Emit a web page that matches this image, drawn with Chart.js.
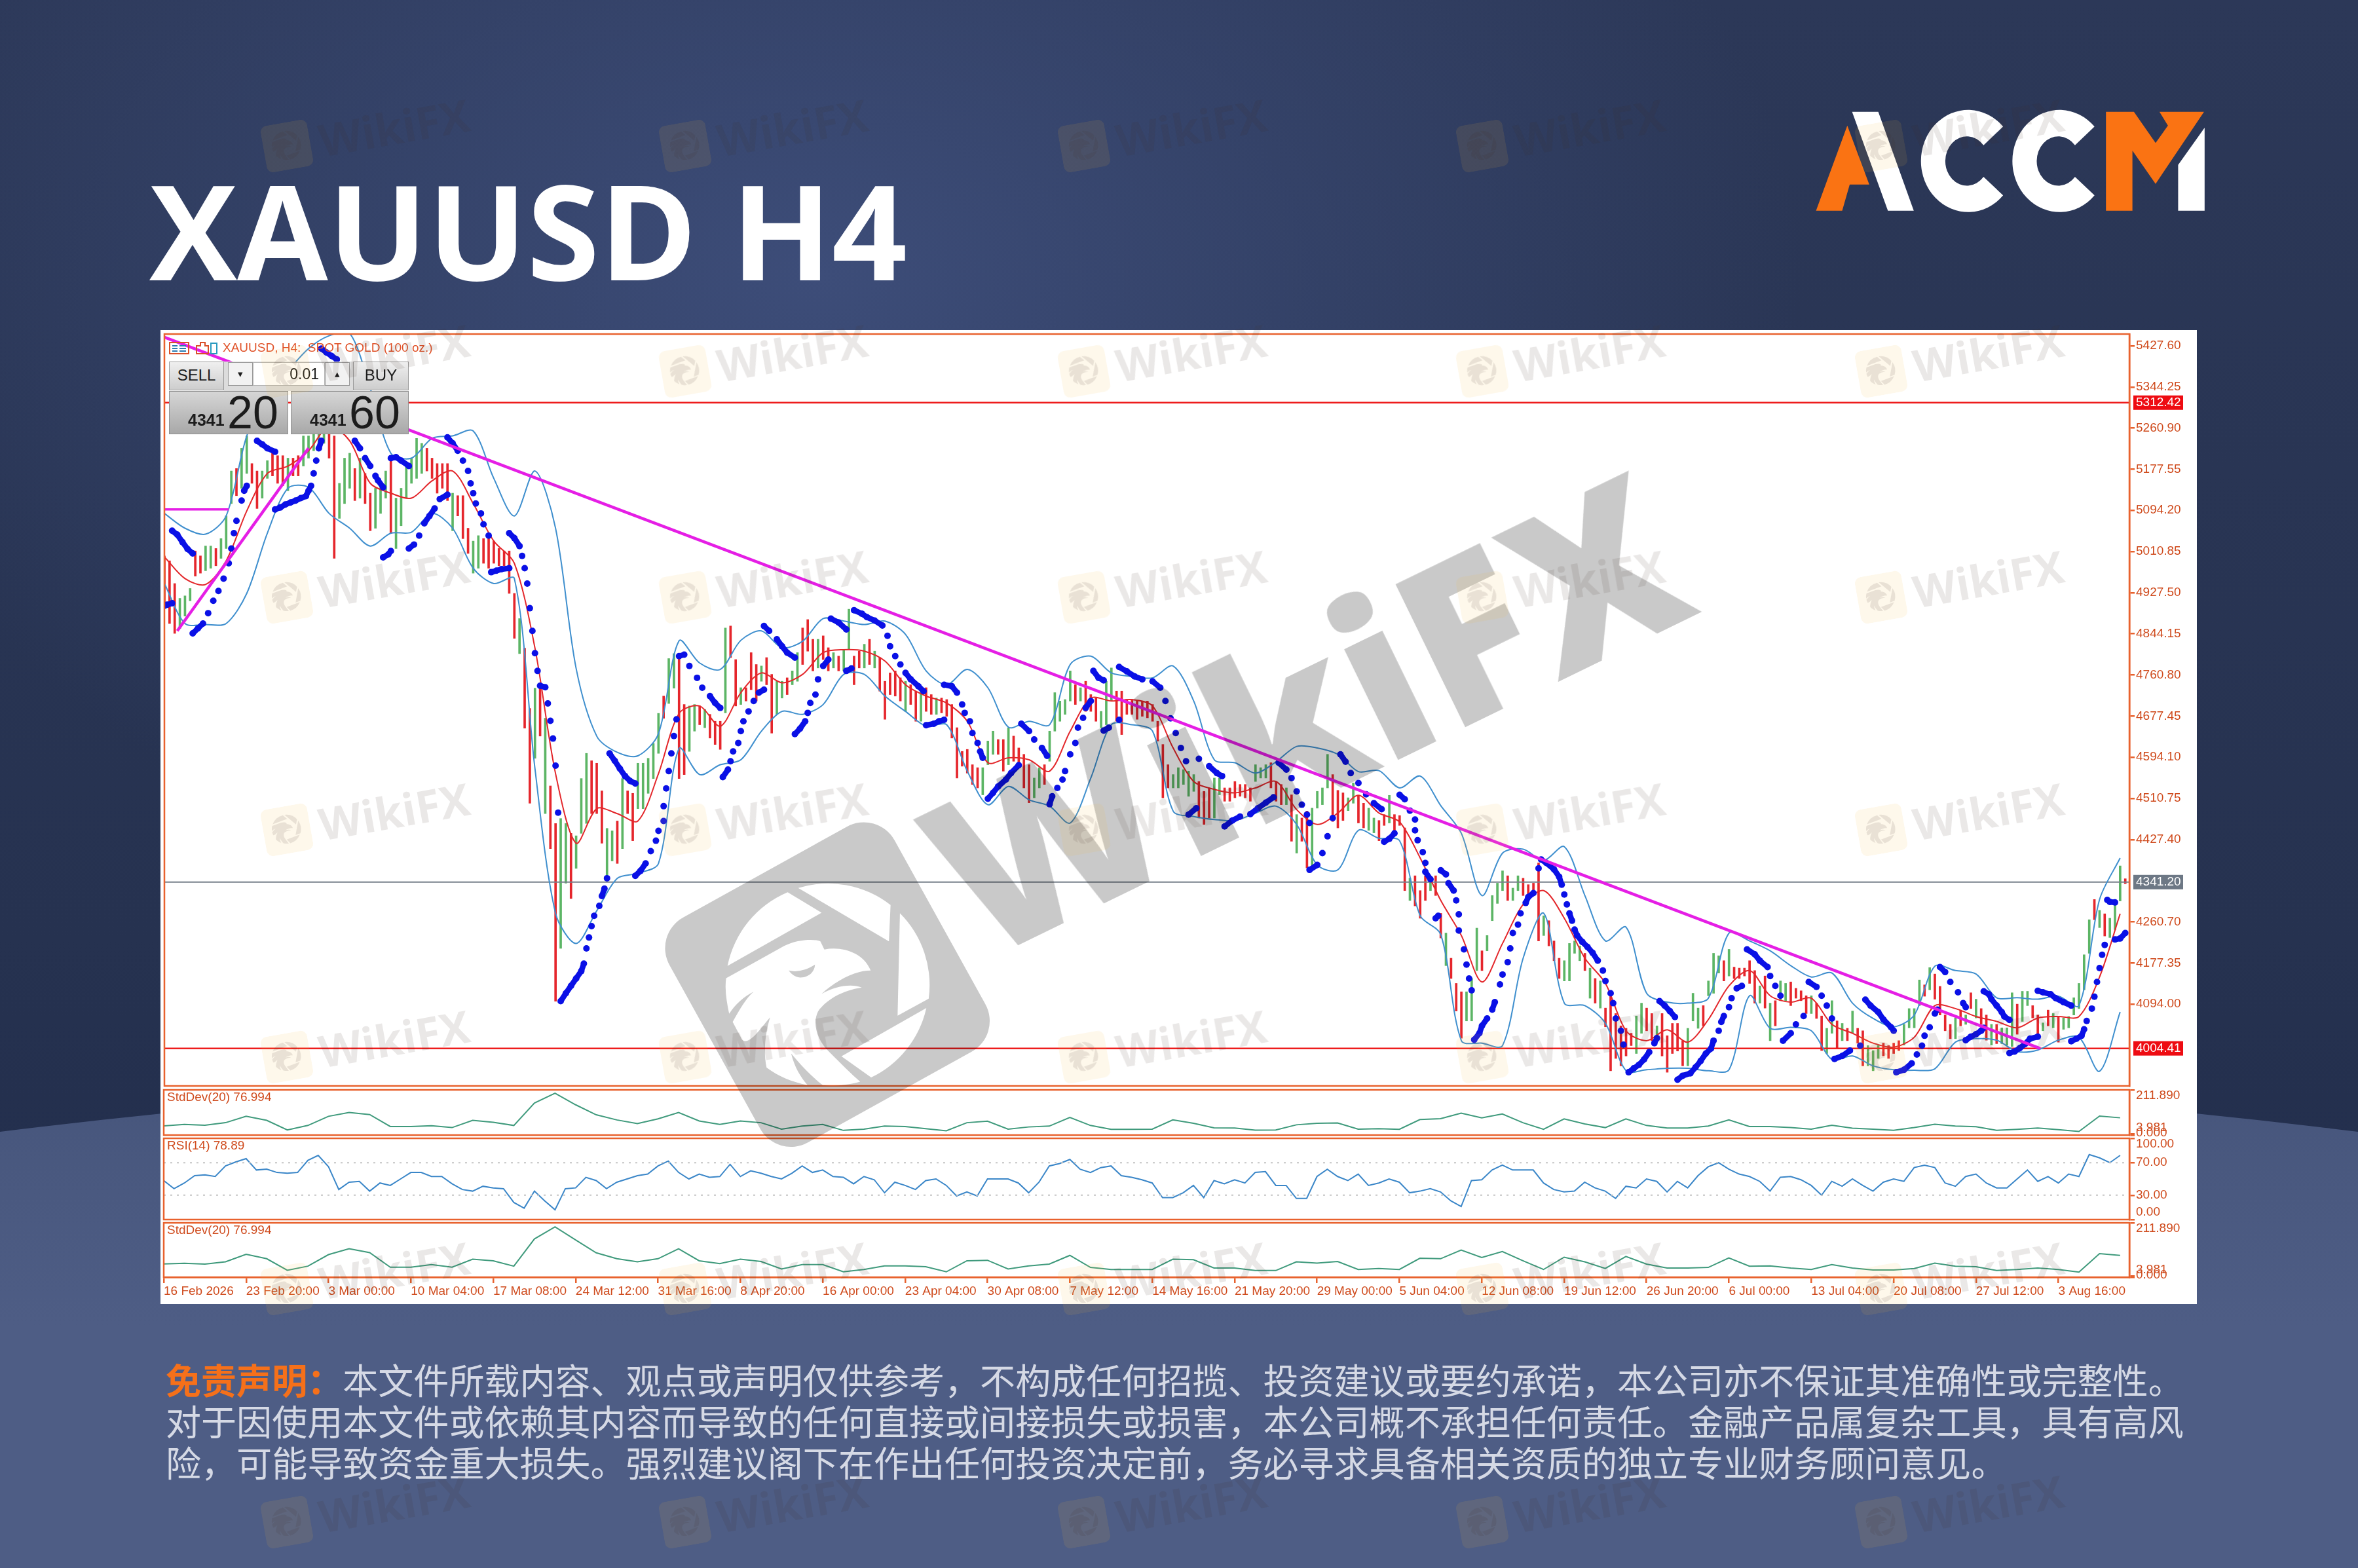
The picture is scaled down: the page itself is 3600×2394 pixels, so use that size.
<!DOCTYPE html>
<html lang="zh">
<head>
<meta charset="utf-8">
<title>XAUUSD H4</title>
<script src="https://cdn.jsdelivr.net/npm/chart.js@4"></script>
<style>
  html, body { margin: 0; padding: 0; }
  body {
    position: relative; width: 3600px; height: 2394px; overflow: hidden;
    background:
      radial-gradient(ellipse 1500px 1000px at 1250px 420px, #3d4d79 0%, rgba(61,77,121,0) 100%),
      linear-gradient(180deg, #2c3858 0%, #263250 60%, #1e2a49 100%);
    font-family: "Liberation Sans", sans-serif;
  }
  .abs { position: absolute; }
  #arc { left: -2255px; top: 1624px; width: 8110px; height: 2000px; border-radius: 50%;
         background: linear-gradient(180deg, #46557b 0%, #4e5d85 20%); }
  #title { left: 228px; top: 215px; font: 700 201px/270px "Open Sans", sans-serif; color: #fff; white-space: nowrap; }
  #logo { left: 2700px; top: 130px; }
  #sheet { left: 245px; top: 504px; width: 3109px; height: 1487px; background: #fff; }
  canvas { position: absolute; left: 246px; }
  #header { left: 340px; top: 520px; font-size: 19px; color: #e0532a; white-space: pre; }
  .tp { position: absolute; box-sizing: border-box; color: #1c1c1c; white-space: nowrap; }
  .btn { background: linear-gradient(180deg, #efefef, #cdcdcd); border: 1px solid #9a9a9a; text-align: center; font-size: 24px; line-height: 40px; }
  .big { background: linear-gradient(180deg, #d6d6d6, #a8a8a8); border: 1px solid #8f8f8f; }
  .big b { position: absolute; left: 28px; bottom: 6px; font-size: 25px; }
  .big span { position: absolute; left: 88px; bottom: -3px; font-size: 70px; line-height: 70px; }
  #notes div { position: absolute; left: 253px; font: 400 54.05px/64px "Noto Sans CJK SC", sans-serif; color: #d5d9e5; white-space: nowrap; }
  #notes b { color: #f5701a; font-weight: 700; }
  #marks { left: 0; top: 0; width: 3600px; height: 2394px; pointer-events: none; }
  .wm { position: absolute; display: flex; align-items: center; transform: rotate(-10deg); transform-origin: 36px 36px; }
  .wm span { font: 700 68px/72px "Open Sans", sans-serif; color: rgba(60,50,40,.11); margin-left: 14px; }
  #bigText { left: 1340px; top: 835px; width: 1300px; text-align: center; font: 800 340px/500px "Open Sans", sans-serif; color: #c9c9c9; mix-blend-mode: multiply; transform: rotate(-26deg); }
  #bigLogo { left: 990px; top: 1230px; mix-blend-mode: multiply; overflow: visible; }
</style>
</head>
<body>
<div id="arc" class="abs"></div>
<div id="title" class="abs">XAUUSD H4</div>

<svg id="logo" class="abs" width="720" height="230" viewBox="0 0 1568 690" preserveAspectRatio="none">
  <polygon fill="#fa7313" points="158,575 262,185 335,455 270,455 245,575"/>
  <polygon fill="#fff" points="278,122 365,122 483,575 397,575"/>
  <path fill="#fff" d="M780 190 A157 234 0 1 0 780 505 L715 420 A72 113 0 1 1 715 275 Z"/>
  <path fill="#fff" d="M1084 190 A157 234 0 1 0 1084 505 L1019 420 A72 113 0 1 1 1019 275 Z"/>
  <polygon fill="#fa7313" points="1122,122 1215,122 1287,265 1328,185 1300,122 1448,122 1287,452 1210,300 1210,575 1122,575"/>
  <polygon fill="#fff" points="1450,195 1450,575 1362,575 1362,365"/>
</svg>

<div id="sheet" class="abs"></div>
<canvas id="mainPane" width="3108" height="1158" style="top:505px"></canvas>
<canvas id="stdPaneA" width="3108" height="77" style="top:1660px"></canvas>
<canvas id="rsiPane" width="3108" height="132" style="top:1734px"></canvas>
<canvas id="stdPaneB" width="3108" height="128" style="top:1863px"></canvas>

<svg class="abs" style="left:258px;top:520px" width="76" height="24" viewBox="0 0 76 24">
  <rect x="1" y="3" width="29" height="17" fill="none" stroke="#d9502a" stroke-width="2"/>
  <path d="M5 8h8M5 12h8M5 16h8M16 8h10M16 12h10M16 16h10" stroke="#2a7ab0" stroke-width="2"/>
  <path d="M42 20V8h6V3h7v5h5v12z" fill="none" stroke="#d9502a" stroke-width="2"/>
  <path d="M64 20V4h9v16z" fill="none" stroke="#2a9ac0" stroke-width="2"/>
</svg>
<div id="header" class="abs">XAUUSD, H4:  SPOT GOLD (100 oz.)</div>

<div class="tp btn" style="left:258px;top:552px;width:84px;height:44px">SELL</div>
<div class="tp" style="left:342px;top:552px;width:197px;height:45px;background:#dcdcdc"></div>
<div class="tp btn" style="left:348px;top:553px;width:38px;height:36px;line-height:34px;font-size:15px;background:#f2f2f2">&#9662;</div>
<div class="tp" style="left:386px;top:553px;width:110px;height:36px;background:#fff;border:1px solid #b5b5b5;text-align:right;padding-right:8px;font-size:23px;line-height:34px">0.01</div>
<div class="tp btn" style="left:496px;top:553px;width:38px;height:36px;line-height:34px;font-size:15px;background:#f2f2f2">&#9652;</div>
<div class="tp btn" style="left:539px;top:552px;width:85px;height:44px">BUY</div>
<div class="tp big" style="left:258px;top:597px;width:182px;height:66px"><b>4341</b><span>20</span></div>
<div class="tp big" style="left:444px;top:597px;width:180px;height:66px"><b>4341</b><span>60</span></div>

<div id="notes">
  <div style="top:2074px"><b>免责声明&#xFF1A;</b>本文件所载内容、观点或声明仅供参考&#xFF0C;不构成任何招揽、投资建议或要约承诺&#xFF0C;本公司亦不保证其准确性或完整性。</div>
  <div style="top:2137px">对于因使用本文件或依赖其内容而导致的任何直接或间接损失或损害&#xFF0C;本公司概不承担任何责任。金融产品属复杂工具&#xFF0C;具有高风</div>
  <div style="top:2200px">险&#xFF0C;可能导致资金重大损失。强烈建议阁下在作出任何投资决定前&#xFF0C;务必寻求具备相关资质的独立专业财务顾问意见。</div>
</div>

<svg width="0" height="0" style="position:absolute">
  <symbol id="eagle" viewBox="0 0 1568 1568" overflow="visible">
    <path d="M595 370 L740 458 L338 685 A435 435 0 0 1 595 370 Z"/>
    <path d="M640 352 A435 435 0 0 1 1035 425 L1028 580 Z"/>
    <path d="M1075 460 A435 435 0 0 1 1198 825 L1065 898 Z"/>
    <path d="M1188 865 A435 435 0 0 1 952 1162 L825 1072 Z"/>
    <path d="M332 738 L580 600 C640 570 710 570 735 580 L752 615 C830 600 920 630 950 705 C880 705 800 750 740 805 C800 770 870 760 912 778 C830 790 760 830 725 880 C700 930 720 1000 770 1050 C820 1100 870 1150 905 1180 C850 1195 790 1200 745 1195 C700 1160 660 1120 610 1060 C625 1120 650 1160 680 1195 C610 1180 560 1160 505 1120 C490 1050 500 970 520 905 C480 950 430 1030 400 1000 L360 925 C390 870 420 820 450 795 C410 815 370 850 345 890 C335 840 325 790 332 738 Z"/>
  </symbol>
</svg>

<div id="marks" class="abs">
  <div id="bigText" class="abs">WikiFX</div>
  <svg id="bigLogo" class="abs" width="560" height="560" viewBox="0 0 1568 1568">
    <rect x="215" y="215" width="1100" height="1100" rx="150" fill="#c9c9c9" transform="rotate(-29 765 765)"/>
    <use href="#eagle" width="1568" height="1568" fill="#fff"/>
    <path d="M600 705 C640 715 680 700 712 680 C710 715 680 735 650 735 C630 735 610 720 600 705 Z" fill="#c9c9c9"/>
  </svg>
</div>

<script>
// -------- axis labels --------
const priceTicks = [5427.60, 5344.25, 5260.90, 5177.55, 5094.20, 5010.85, 4927.50, 4844.15, 4760.80, 4677.45, 4594.10, 4510.75, 4427.40, 4260.70, 4177.35, 4094.00];
const tagValues = [5312.42, 4341.20, 4004.41];
const tagColors = ["#ee0c12", "#6d7885", "#ee0c12"];
const timeLabels = ["16 Feb 2026", "23 Feb 20:00", "3 Mar 00:00", "10 Mar 04:00", "17 Mar 08:00", "24 Mar 12:00", "31 Mar 16:00", "8 Apr 20:00", "16 Apr 00:00", "23 Apr 04:00", "30 Apr 08:00", "7 May 12:00", "14 May 16:00", "21 May 20:00", "29 May 00:00", "5 Jun 04:00", "12 Jun 08:00", "19 Jun 12:00", "26 Jun 20:00", "6 Jul 00:00", "13 Jul 04:00", "20 Jul 08:00", "27 Jul 12:00", "3 Aug 16:00"];
const stdTicks = [211.89, 3.981, 0];
const rsiTicks = [100, 70, 30, 0];

// -------- price bars, one visible bar every 2 time units --------
const barHigh = [
5002,4992,4946,4916,4921,4936,5012,5002,5022,5022,5017,5037,5083,5174,5179,5220,5245,5189,5174,5174,
5195,5210,5205,5205,5200,5200,5205,5245,5245,5281,5311,5321,5311,5245,5149,5200,5210,5179,5200,5169,
5129,5139,5149,5174,5200,5119,5139,5189,5200,5240,5230,5220,5200,5189,5189,5189,5129,5124,5124,5058,
5032,5043,5037,5037,5032,5017,5012,5012,4926,4875,4815,4693,4734,4739,4673,4536,4460,4470,4460,4440,
4435,4551,4602,4587,4582,4526,4450,4445,4465,4551,4526,4521,4582,4582,4592,4622,4683,4718,4794,4804,
4799,4701,4698,4701,4698,4691,4681,4667,4667,4856,4860,4792,4735,4735,4806,4782,4779,4796,4762,4748,
4748,4755,4769,4806,4856,4873,4833,4833,4840,4816,4806,4799,4812,4894,4799,4809,4823,4833,4809,4796,
4748,4765,4769,4755,4748,4741,4728,4728,4735,4721,4714,4714,4711,4701,4654,4606,4610,4579,4573,4573,
4627,4647,4630,4630,4654,4637,4613,4600,4579,4552,4573,4579,4647,4725,4708,4711,4769,4741,4735,4748,
4721,4714,4687,4748,4775,4728,4728,4711,4711,4708,4708,4708,4701,4667,4620,4579,4559,4573,4569,4566,
4559,4545,4525,4532,4552,4552,4532,4532,4545,4539,4539,4532,4579,4573,4579,4583,4545,4539,4532,4518,
4478,4471,4485,4491,4525,4532,4600,4559,4527,4522,4512,4542,4517,4501,4491,4471,4466,4478,4517,4478,
4476,4451,4349,4354,4324,4354,4344,4354,4278,4238,4187,4136,4119,4119,4146,4248,4202,4233,4314,4339,
4364,4354,4329,4354,4349,4336,4339,4380,4273,4263,4222,4187,4182,4217,4222,4212,4197,4167,4146,4141,
4086,4111,4075,4050,4045,4035,4070,4096,4086,4075,4050,4075,4030,4055,4055,4020,4045,4116,4086,4091,
4141,4197,4192,4182,4205,4169,4167,4167,4182,4162,4131,4151,4096,4101,4141,4136,4139,4126,4121,4111,
4111,4096,4070,4045,4101,4060,4055,4045,4080,4045,4040,4010,4000,4010,4015,4010,4015,4020,4053,4085,
4085,4143,4133,4168,4155,4130,4072,4053,4066,4082,4072,4117,4104,4085,4072,4053,4053,4046,4046,4117,
4094,4120,4120,4091,4072,4056,4082,4075,4069,4066,4069,4107,4136,4194,4265,4306,4284,4277,4268,4297,
4374,4348];
const barLow = [
4901,4865,4845,4855,4880,4911,4961,4967,4972,4977,4982,4997,5017,5108,5124,5139,5169,5149,5098,5119,
5159,5164,5149,5144,5134,5164,5164,5184,5200,5215,5220,5230,5200,4997,5078,5108,5139,5114,5119,5108,
5053,5058,5088,5119,5048,5017,5063,5119,5149,5159,5169,5174,5159,5129,5139,5114,5053,5083,5037,5007,
4967,4977,4987,4977,4987,4982,4982,4926,4835,4804,4653,4501,4592,4637,4480,4409,4100,4207,4339,4308,
4369,4440,4460,4480,4480,4420,4354,4384,4379,4409,4480,4425,4490,4490,4521,4551,4602,4673,4703,4734,
4551,4559,4606,4647,4660,4654,4633,4620,4610,4684,4796,4698,4701,4708,4731,4708,4748,4741,4643,4681,
4714,4721,4741,4748,4782,4809,4769,4775,4792,4769,4775,4769,4769,4812,4741,4775,4775,4782,4775,4728,
4671,4721,4718,4708,4687,4701,4667,4667,4687,4681,4681,4684,4677,4633,4552,4576,4562,4539,4532,4518,
4579,4600,4600,4566,4579,4586,4572,4532,4502,4512,4532,4539,4586,4647,4667,4681,4708,4701,4708,4687,
4687,4667,4654,4660,4708,4667,4640,4681,4681,4671,4677,4674,4667,4627,4512,4532,4532,4532,4539,4515,
4525,4471,4458,4471,4471,4518,4505,4505,4512,4515,4512,4505,4545,4552,4552,4532,4505,4498,4498,4424,
4400,4424,4370,4366,4491,4498,4532,4464,4451,4466,4486,4501,4461,4451,4446,4441,4425,4456,4461,4446,
4456,4324,4304,4293,4268,4304,4324,4314,4228,4172,4146,4080,4025,4060,4060,4162,4162,4202,4263,4298,
4324,4304,4304,4324,4314,4314,4314,4222,4233,4212,4182,4146,4141,4141,4197,4182,4162,4106,4096,4086,
4048,3959,3984,3969,3989,4010,3994,4035,4040,4020,4025,3989,3956,3994,3999,3969,3969,4060,4045,4050,
4111,4116,4157,4141,4151,4146,4146,4151,4136,4096,4096,4086,4020,4050,4101,4101,4091,4106,4101,4075,
4075,4065,4000,3994,4035,4004,4020,4020,4035,4015,3969,3969,3959,3984,3989,3984,3994,4000,4011,4046,
4046,4091,4110,4123,4104,4072,4040,4024,4024,4050,4053,4085,4066,4053,4021,4011,4014,4014,4011,4008,
4033,4059,4091,4066,4033,4040,4050,4046,4017,4043,4046,4072,4085,4123,4197,4265,4249,4232,4229,4245,
4303,4338];
const barDir = [
"rrrgggrrgg","rgggrggrrg","grrrgrrggg","ggrrgggrgr","rgggrggggg","grrrrrgrrr","ggrrrrrrrg","rrgrgrrggr",
"gggrrrggrg","rrgggggrgg","rrggrgrrrg","rrgrrrgrrg","grggrrrgrr","grggrrgrgr","rrrrgrrgrr","grrrrrrrrg",
"ggrrgrrrrg","grgggggrgr","rrgggrrrrr","rrrrrrgggg","grrrggrrrr","rrgggrrrgr","grrggggrrr","ggrrggrrgr",
"rrgrrrgrrg","rrrgggrggg","grggrrrrgr","rrggggrgrg","rrrrrrggrr","grrrrrgggr","gggrgrrrrr",
"grgrggrrrr","grrggrgrgr","rgggrrrrgg","ggrgrrrrgr","grgrrgrggg","rggrrgrgrg","gggggrgrgggr"].join("");

// -------- indicators on the main pane, sampled every 8 time units --------
const bbUpper = [
5088,5058,5046,5083,5245,5331,5377,5422,5448,5453,5341,5210,5200,5240,5245,5255,5159,5083,5174,5058,4774,4637,4604,4597,4642,4830,
4785,4772,4831,4850,4816,4829,4875,4870,4863,4870,4843,4769,4741,4772,4735,4655,4667,4660,4782,4799,4765,4758,4755,4779,4708,4589,4583,4562,4585,4616,4613,4600,
4565,4567,4532,4556,4496,4440,4314,4400,4408,4385,4413,4314,4222,4250,4116,4098,4096,4106,4238,4222,4202,4172,4149,4157,4096,4065,4048,
4072,4171,4162,4155,4107,4107,4104,4110,4091,4306,4390];
const bbLower = [
4946,4865,4863,4865,4926,5048,5139,5141,5088,5058,5022,5048,5050,5088,5058,4977,4946,4956,4571,4278,4217,4283,4349,4359,4379,4612,
4559,4579,4589,4647,4687,4681,4701,4762,4762,4718,4687,4657,4660,4566,4498,4535,4508,4495,4461,4552,4660,4660,4647,4485,4474,4468,4466,4481,4495,4458,4376,4366,
4446,4430,4425,4273,4235,4020,4015,4010,4187,4278,4096,4091,4055,3959,3961,3964,3964,3959,3961,4111,4045,4047,4040,3982,3989,3969,3961,
3960,3963,4017,4024,4021,3998,4001,4021,4027,3958,4078];
const bbMiddle = [
5000,4956,4944,4992,5093,5169,5184,5215,5265,5235,5149,5129,5119,5154,5174,5108,5032,4987,4815,4561,4420,4490,4480,4465,4561,4683,
4698,4657,4725,4765,4745,4762,4806,4812,4809,4789,4741,4718,4704,4667,4583,4593,4589,4566,4647,4714,4708,4711,4698,4613,4545,4529,4522,4532,4545,4488,4458,4481,
4517,4481,4463,4390,4304,4233,4139,4217,4296,4324,4268,4187,4136,4040,4020,4042,4017,4063,4131,4162,4111,4098,4106,4053,4035,4015,4007,
4027,4091,4085,4069,4059,4046,4066,4069,4069,4149,4277];

// parabolic SAR dots as [time unit, price]
const sarPoints = [
[0,4901],[1,4903],[3,4906],[3,5053],[5,5045],[7,5030],[9,5016],[11,5007],
[11,4845],[13,4855],[15,4865],[17,4886],[19,4911],[21,4931],[23,4956],[25,4987],[26,5017],[27,5048],[28,5073],[30,5114],[31,5134],[32,5144],
[36,5235],[38,5228],[40,5220],[43,5213],
[43,5096],[45,5100],[47,5106],[49,5110],[51,5114],[53,5119],[55,5123],[56,5134],[57,5144],[58,5169],[59,5195],[60,5220],[61,5235],
[61,5422],[63,5414],[65,5407],[67,5400],
[74,5235],[76,5220],[78,5200],[80,5184],[82,5164],[83,5155],[85,5141],
[88,5200],[90,5202],[92,5195],[95,5184],
[85,4999],[87,5005],[88,5012],
[95,5017],[97,5025],[99,5043],[101,5068],[103,5083],[105,5098],[107,5117],[110,5126],
[110,5242],[112,5230],[114,5215],[116,5195],[118,5174],[119,5149],[120,5129],[121,5108],[123,5088],[124,5066],[126,5043],
[127,4969],[129,4972],[131,4975],[134,4977],
[134,5048],[136,5038],[138,5022],[139,5002],[140,4977],[141,4946],[142,4896],[143,4850],[144,4805],[145,4769],[146,4739],[148,4736],[149,4703],[150,4668],[151,4632],[152,4577],[153,4482],
[154,4100],[156,4116],[158,4131],[160,4146],[162,4161],[163,4176],[164,4207],[165,4229],[166,4252],[167,4273],[169,4293],[170,4313],[171,4328],[172,4349],
[173,4602],[175,4587],[177,4571],[179,4556],[181,4546],[183,4541],
[183,4354],[185,4364],[187,4379],[189,4404],[191,4425],[192,4445],[194,4465],[194,4495],[195,4531],[196,4566],[197,4602],[198,4637],[199,4671],
[200,4799],[202,4802],[204,4779],[207,4755],[209,4735],[212,4718],[214,4704],[216,4694],
[217,4554],[219,4569],[220,4586],[221,4606],[223,4623],[224,4647],[225,4667],[227,4687],[229,4708],[231,4725],[233,4731],
[233,4860],[235,4850],[238,4833],[240,4819],[242,4806],[245,4796],
[245,4641],[247,4652],[249,4667],[250,4684],[251,4704],[253,4721],[254,4752],[256,4779],[258,4792],
[259,4875],[262,4867],[265,4853],
[265,4769],[267,4774],
[268,4892],[271,4885],[273,4878],[276,4871],[279,4861],[281,4840],[282,4819],[284,4799],[286,4782],[288,4765],[290,4752],[293,4738],[295,4728],
[296,4659],[299,4662],[301,4667],[303,4670],
[303,4741],[306,4738],[308,4725],[310,4701],[311,4684],[313,4667],[314,4643],[316,4623],[317,4606],[318,4593],
[320,4510],[322,4522],[324,4535],[327,4549],[329,4562],[332,4578],
[333,4662],[336,4647],[338,4630],[341,4613],[343,4597],
[344,4499],[345,4515],[347,4532],[349,4549],[350,4566],[352,4600],[354,4623],[355,4654],[357,4674],[358,4694],[360,4708],
[361,4769],[363,4755],[365,4750],
[365,4648],[367,4654],[371,4670],
[371,4777],[374,4768],[377,4758],[380,4752],[384,4748],[387,4735],[389,4708],[391,4673],[393,4643],[395,4613],[397,4586],
[398,4478],[401,4491],
[402,4591],[406,4576],[409,4562],[411,4556],
[412,4454],[415,4466],[418,4474],[422,4479],[425,4491],[428,4502],[431,4513],
[433,4583],[436,4569],[438,4552],[440,4525],[442,4498],[444,4478],[445,4461],
[445,4366],[448,4376],[450,4400],[452,4434],[454,4471],
[457,4600],[459,4585],[461,4562],[464,4542],[467,4519],[470,4501],[473,4489],
[474,4423],[476,4429],[478,4440],
[480,4518],[482,4509],[484,4486],[486,4468],[486,4446],[487,4426],[489,4402],[490,4380],[490,4362],[492,4347],
[494,4268],[495,4273],
[496,4365],[498,4357],[499,4339],[501,4324],[502,4304],[503,4276],[503,4243],[505,4205],[506,4174],[507,4146],[508,4122],
[509,4022],[511,4035],[512,4050],[514,4065],[516,4083],[517,4098],[519,4134],[520,4154],[522,4179],[523,4207],[524,4238],[526,4255],[527,4278],[529,4299],[530,4311],[532,4319],
[534,4369],[535,4387],[537,4380],[540,4367],[542,4352],[543,4336],[544,4316],[545,4296],[546,4278],[547,4263],[548,4245],[549,4233],[551,4220],[553,4210],[555,4198],[557,4182],[559,4162],[560,4141],[562,4116],[563,4096],[564,4065],[566,4040],[567,4012],
[569,3956],[571,3964],[573,3971],[575,3982],[577,3997],[579,4015],[580,4025],
[581,4100],[583,4091],[585,4080],[587,4068],
[588,3941],[590,3949],[593,3954],[595,3966],[597,3979],[599,3994],[601,4004],[602,4020],[604,4040],[605,4058],[606,4070],[608,4088],[609,4106],[611,4126],[613,4131],
[615,4205],[618,4195],[620,4182],[623,4169],[624,4151],[626,4131],[628,4111],
[629,4020],[632,4035],[634,4053],[637,4070],
[639,4139],[642,4129],[644,4111],[646,4091],[648,4065],
[649,3983],[652,3989],[655,4000],[659,4010],
[661,4103],[663,4091],[666,4078],[668,4063],[671,4047],[672,4040],
[673,3956],[676,3961],[679,3974],[681,3992],[683,4010],[684,4030],[686,4047],[688,4075],[689,4083],
[690,4169],[692,4159],[694,4139],[697,4118],[699,4096],[700,4088],
[700,4021],[702,4028],[704,4033],[706,4040],[707,4046],
[707,4120],[709,4114],[710,4104],[712,4091],[714,4078],[715,4069],[717,4062],
[717,3995],[719,3998],[721,4005],[723,4013],[725,4024],[728,4028],
[728,4121],[730,4118],[733,4114],[735,4106],[738,4098],[741,4091],
[741,4019],[743,4024],[745,4030],[746,4043],[747,4060],[749,4085],[750,4109],[751,4139],[752,4167],[753,4194],[754,4214],
[755,4305],[756,4301],[758,4300],
[758,4225],[760,4227],[762,4238]];

// drawn objects: trendlines and horizontal levels
const trendMain = [[0,5445],[729,4004]];
const trendLeft = [[5,4850],[56,5220]];
const shelfLeft = [[0,5096],[25,5096]];

// -------- sub windows --------
const stdDevUpper = [
43,50,46,58,88,69,24,45,88,106,96,40,40,44,35,69,60,45,150,196,142,95,71,54,76,106,66,50,66,58,28,42,50,22,28,
42,40,30,20,58,65,28,38,42,83,45,27,27,28,71,55,34,33,23,24,48,55,57,28,30,27,73,77,103,81,99,58,27,76,
52,35,76,45,33,33,42,71,40,40,35,28,46,32,28,22,35,51,42,39,22,27,33,25,17,89,81];
const stdDevLower = [
52,54,51,60,89,72,27,43,88,111,96,39,39,49,39,70,64,43,149,196,145,95,72,60,72,111,64,53,70,61,32,49,49,21,30,
44,44,41,21,64,66,32,44,51,85,38,30,30,30,70,68,36,36,26,26,60,55,61,30,34,30,74,72,106,77,100,64,30,78,
60,34,81,51,36,36,38,75,43,44,36,30,49,36,28,28,34,55,43,41,26,30,36,30,20,92,85];
const rsiValues = [
48,38,45,54,55,53,66,71,75,61,62,58,57,58,73,79,65,37,46,47,35,45,42,50,58,58,53,53,44,37,35,41,39,38,21,14,35,23,12,38,
39,52,48,38,46,50,54,56,66,72,58,50,56,52,53,68,53,60,57,53,50,57,66,58,61,53,52,44,53,
49,33,46,42,37,48,50,42,29,34,29,50,50,50,45,33,46,66,69,74,62,58,64,66,54,52,49,45,27,27,33,42,27,48,44,49,45,58,59,42,
42,26,26,53,62,53,48,56,42,45,50,46,33,35,38,34,23,16,48,49,61,67,61,61,61,45,37,34,
35,46,39,35,26,41,39,50,47,34,47,39,54,65,70,62,56,53,47,35,52,53,49,42,30,47,41,50,42,35,46,50,47,64,67,64,45,41,53,56,45,39,39,50,61,47,53,45,56,53,80,76,70,79];

const unitsPerBar = 2, unitsPerBand = 8, unitsPerRsi = 4, unitsPerTimeTick = 32;
const xMax = 763.6;
const orange = "#e8622e", labelColor = "#cf4a1c";
const axisFont = { family: "Liberation Sans", size: 19 };

Chart.defaults.animation = false;
Chart.defaults.responsive = false;
Chart.defaults.devicePixelRatio = 1;

const toXY = (values, step) => values.map((v, i) => ({ x: i * step, y: v }));
const pairs = (list) => list.map(([x, y]) => ({ x, y }));

function paneFrame(label, labels) {
  // orange frame, window caption and the right-hand labels MT4 shifts inside the pane
  return {
    id: "paneFrame",
    afterDraw(chart) {
      const { ctx, chartArea: a, scales } = chart;
      ctx.save();
      ctx.strokeStyle = orange;
      ctx.lineWidth = 2.5;
      ctx.strokeRect(a.left, a.top, a.right - a.left, a.bottom - a.top);
      ctx.font = "19px 'Liberation Sans'";
      ctx.fillStyle = labelColor;
      ctx.textBaseline = "middle";
      if (label) ctx.fillText(label, a.left + 5, a.top + 12);
      (labels || []).forEach(([value, text, shift]) => {
        ctx.fillText(text, a.right + 10, scales.y.getPixelForValue(value) + shift);
      });
      ctx.restore();
    },
  };
}

const priceTags = {
  id: "priceTags",
  afterDraw(chart) {
    const { ctx, chartArea: a, scales } = chart;
    ctx.save();
    ctx.font = "19px 'Liberation Sans'";
    ctx.textBaseline = "middle";
    tagValues.forEach((value, i) => {
      const y = scales.y.getPixelForValue(value);
      ctx.fillStyle = tagColors[i];
      ctx.fillRect(a.right + 6, y - 11, 76, 22);
      ctx.fillStyle = "#fff";
      ctx.fillText(value.toFixed(2), a.right + 10, y);
    });
    ctx.restore();
  },
};

function xAxis(show) {
  return {
    type: "linear", min: 0, max: xMax, offset: false, display: show,
    border: { color: orange, width: 2.5 },
    grid: { drawOnChartArea: false, color: orange, tickLength: 9, lineWidth: 2.5 },
    afterBuildTicks(s) { s.ticks = timeLabels.map((_, i) => ({ value: i * unitsPerTimeTick })); },
    afterFit(s) { s.height = show ? 41 : 0; s.paddingLeft = 0; s.paddingRight = 0; },
    ticks: { autoSkip: false, maxRotation: 0, minRotation: 0, align: "start", padding: 1, color: labelColor, font: axisFont,
      callback: (value, index) => timeLabels[index] },
  };
}

function yAxis(min, max, tickValues, showLabels) {
  return {
    position: "right", min, max,
    border: { color: orange, width: 2.5 },
    grid: { drawOnChartArea: false, color: orange, tickLength: 8, lineWidth: 2.5 },
    afterBuildTicks(s) { s.ticks = tickValues.map((value) => ({ value })); },
    afterFit(s) { s.width = 103; s.paddingTop = 0; s.paddingBottom = 0; },
    ticks: { display: showLabels, color: labelColor, font: axisFont, padding: 2, callback: (v) => v.toFixed(2) },
  };
}

function lineSet(data, color, width, extra) {
  return Object.assign({ type: "line", data, borderColor: color, borderWidth: width, pointRadius: 0, fill: false, tension: 0 }, extra || {});
}

// main pane
new Chart(document.getElementById("mainPane"), {
  data: {
    datasets: [
      {
        type: "bar", order: 9,
        data: barHigh.map((h, i) => ({ x: i * unitsPerBar, y: [barLow[i], h] })),
        backgroundColor: barHigh.map((_, i) => (barDir[i] === "g" ? "#5cb565" : "#e5262c")),
        barThickness: 3, borderWidth: 0, borderSkipped: false,
      },
      lineSet(toXY(bbUpper, unitsPerBand), "#3f8fce", 2, { order: 6, tension: 0.3 }),
      lineSet(toXY(bbLower, unitsPerBand), "#3f8fce", 2, { order: 6, tension: 0.3 }),
      lineSet(toXY(bbMiddle, unitsPerBand), "#e3262a", 2, { order: 5, tension: 0.3 }),
      lineSet([{ x: 0, y: tagValues[1] }, { x: xMax, y: tagValues[1] }], "#77808a", 2, { order: 7 }),
      lineSet([{ x: 0, y: tagValues[0] }, { x: xMax, y: tagValues[0] }], "#ee1c1c", 2.5, { order: 7 }),
      lineSet([{ x: 0, y: tagValues[2] }, { x: xMax, y: tagValues[2] }], "#ee1c1c", 2.5, { order: 7 }),
      {
        // neighbouring dots in a flat run merge into a thick stroke, as they do in the terminal
        type: "scatter", order: 3, data: pairs(sarPoints), showLine: true,
        pointBackgroundColor: "#0a10e6", pointBorderWidth: 0, pointRadius: 5,
        borderColor: "#0a10e6", borderWidth: 8.5, borderCapStyle: "round",
        segment: {
          borderColor: (c) => (Math.abs(c.p1.parsed.x - c.p0.parsed.x) <= 3 && Math.abs(c.p1.parsed.y - c.p0.parsed.y) <= 16 ? "#0a10e6" : "rgba(0,0,0,0)"),
        },
      },
      lineSet(pairs(trendMain), "#e51ee5", 4.5, { order: 2 }),
      lineSet(pairs(trendLeft), "#e51ee5", 4.5, { order: 2 }),
      lineSet(pairs(shelfLeft), "#e51ee5", 3.5, { order: 2 }),
    ],
  },
  options: {
    layout: { padding: { left: 4, top: 4, bottom: 4, right: 0 } },
    plugins: { legend: { display: false }, tooltip: { enabled: false } },
    scales: { x: xAxis(false), y: yAxis(3928.3, 5451.4, priceTicks, true) },
  },
  plugins: [paneFrame(null), priceTags],
});

// upper StdDev window
new Chart(document.getElementById("stdPaneA"), {
  data: { datasets: [lineSet(toXY(stdDevUpper, unitsPerBand), "#3f9a7c", 2)] },
  options: {
    layout: { padding: { left: 4, top: 4, bottom: 4, right: 0 } },
    plugins: { legend: { display: false }, tooltip: { enabled: false } },
    scales: { x: xAxis(false), y: yAxis(0, 211.89, stdTicks, false) },
  },
  plugins: [paneFrame("StdDev(20) 76.994", [[211.89, "211.890", 9], [3.981, "3.981", -10], [0, "0.000", -3]])],
});

// RSI window
new Chart(document.getElementById("rsiPane"), {
  data: {
    datasets: [
      lineSet([{ x: 0, y: 70 }, { x: xMax, y: 70 }], "#c4c4c4", 2, { borderDash: [3, 7] }),
      lineSet([{ x: 0, y: 30 }, { x: xMax, y: 30 }], "#c4c4c4", 2, { borderDash: [3, 7] }),
      lineSet(toXY(rsiValues, unitsPerRsi), "#3a86c8", 2),
    ],
  },
  options: {
    layout: { padding: { left: 4, top: 4, bottom: 4, right: 0 } },
    plugins: { legend: { display: false }, tooltip: { enabled: false } },
    scales: { x: xAxis(false), y: yAxis(0, 100, rsiTicks, false) },
  },
  plugins: [paneFrame("RSI(14) 78.89", [[100, "100.00", 9], [70, "70.00", 0], [30, "30.00", 0], [0, "0.00", -11]])],
});

// lower StdDev window, carries the time axis
new Chart(document.getElementById("stdPaneB"), {
  data: { datasets: [lineSet(toXY(stdDevLower, unitsPerBand), "#3f9a7c", 2)] },
  options: {
    layout: { padding: { left: 4, top: 4, bottom: 0, right: 0 } },
    plugins: { legend: { display: false }, tooltip: { enabled: false } },
    scales: { x: xAxis(true), y: yAxis(0, 211.89, stdTicks, false) },
  },
  plugins: [paneFrame("StdDev(20) 76.994", [[211.89, "211.890", 9], [3.981, "3.981", -10], [0, "0.000", -3]])],
});

// repeated WikiFX watermark
const markCols = [402, 1010, 1619, 2227, 2836];
const markRows = [223, 567, 912, 1267, 1614, 1968, 2324];
const marks = document.getElementById("marks");
markRows.forEach((top) => markCols.forEach((left) => {
  const m = document.createElement("div");
  m.className = "wm";
  m.style.left = left + "px";
  m.style.top = (top - 36) + "px";
  m.innerHTML = '<svg width="72" height="72" viewBox="0 0 72 72"><rect width="72" height="72" rx="10" fill="rgba(250,190,60,.1)"/>'
    + '<g transform="rotate(19 36 36)"><use href="#eagle" x="-4" y="-4" width="80" height="80" fill="rgba(60,50,40,.11)"/></g></svg><span>WikiFX</span>';
  marks.appendChild(m);
}));
</script>
</body>
</html>
